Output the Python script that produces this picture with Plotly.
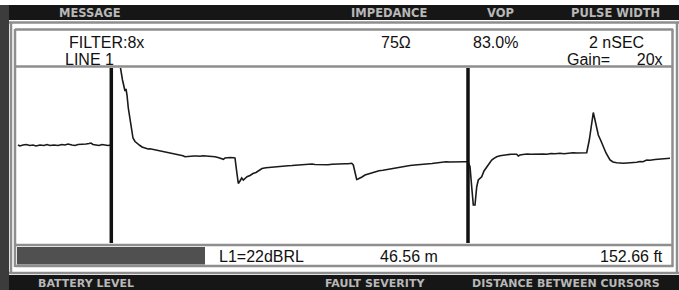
import plotly.graph_objects as go

# ---- data: TDR trace (sample index vs. amplitude, arbitrary units) ----
sample = [3, 5, 8, 11, 15, 18, 21, 25, 29, 32, 35, 39, 43, 47, 50, 53, 57, 60, 63, 67,
          71, 74, 76, 78, 81, 84, 87, 90, 93, 96, 97, 104, 105.5, 107.5, 109, 110, 111, 112,
          113.3, 115, 116.5, 118, 120, 122, 125, 127, 130, 133, 135, 138, 141, 145, 148, 152,
          155, 158, 162, 165, 168, 170, 173, 176, 179, 182, 185, 188, 191, 194, 197, 200, 203,
          206, 208.5, 210, 212, 215, 219, 220, 221.5, 223.3, 225, 226.7, 228.3, 230, 232, 235,
          238, 241, 243, 245, 247, 251, 255, 260, 265, 270, 273, 277, 280, 283, 287, 291, 294,
          297, 300, 303, 307, 310, 313, 317, 320, 323, 327, 330, 333, 336.7, 338.3, 340, 341.7,
          343, 345, 347, 350, 353, 356, 360, 364, 368, 373, 377, 381, 387, 391, 395, 400, 405,
          409, 413, 417, 421, 426, 431, 435, 440, 445, 449, 453, 455, 456.7, 458.3, 460, 461.7,
          463.3, 465, 466.7, 469, 471.7, 474, 476.7, 479, 481.7, 485, 488.3, 492, 496, 500,
          501.7, 503.3, 505, 508, 512, 516, 520, 524, 528, 532, 536, 540, 545, 549, 553, 558,
          562, 566, 571.7, 574.3, 576.7, 578.3, 580, 581.5, 583.3, 586, 588.3, 591, 595, 598,
          601.7, 605, 608.3, 612, 616, 621.7, 625, 628, 631.7, 635, 640, 645, 650, 655]
amplitude = [98, 97, 98, 98.5, 97.5, 98, 97, 98, 97.5, 98.5, 97.5, 98, 97.5, 98.5, 98, 99, 98,
             97.5, 98.5, 98.5, 99, 99.5, 100, 98.5, 98, 97.5, 98.5, 98, 97.5, 98, 203, 213, 175,
             163, 155, 152, 154, 148, 135, 123, 111, 105, 101.5, 99.5, 97.5, 96, 94.7, 94, 94.3,
             93.7, 93, 92, 91.5, 90.3, 90, 89.5, 88.7, 88, 87.2, 86.3, 86.7, 86.5, 87, 87, 86.7,
             87.2, 87, 87.3, 86.5, 86.2, 85.5, 84.5, 83.7, 85, 85.3, 85.5, 85.3, 85, 73, 59.5, 62,
             65, 63, 65, 66.3, 67.5, 69.5, 70.5, 72, 73, 74.5, 75.2, 75.7, 76.3, 76.7, 77, 77.3,
             77.5, 77.7, 78, 78.2, 78.5, 79, 79, 78.5, 78.3, 78, 78.5, 78.3, 78.7, 78.7, 78.5, 79,
             79.2, 79.3, 79.7, 78, 71, 63.5, 64, 64.7, 66, 68, 69, 70.3, 71.3, 72.2, 72.7, 73.7,
             74.5, 75.2, 76.3, 76.7, 77.5, 78, 78.3, 78.5, 79, 79.5, 80, 81, 81.3, 81, 81.3, 81.3,
             81.2, 81.3, 76.3, 56.3, 38, 38, 56, 63, 65, 66.3, 72, 76.3, 80, 83, 84.7, 86.3, 87.3,
             88, 88.3, 88.7, 88.7, 88.7, 87, 88, 88.5, 89, 88.7, 89, 88.7, 89, 88.7, 89.5, 89.2,
             89.7, 89.3, 90, 90.3, 90, 90.3, 90.3, 103, 123, 130.5, 123, 115, 108, 102, 96.3, 90,
             83, 81, 80.3, 79.7, 79.7, 80, 80, 80.7, 81.5, 81.3, 83, 82.7, 83.5, 83.7, 84.3, 84.7]
cursor_samples = [96.3, 453]

header_top = ["FILTER:8x", "75\u03a9", "83.0%", "2 nSEC"]
header_bottom = ["LINE 1", "Gain=\u00a0\u00a0\u00a0\u00a0\u00a0\u00a020x"]
status = ["L1=22dBRL", "46.56 m", "152.66 ft"]
top_labels = ["MESSAGE", "IMPEDANCE", "VOP", "PULSE WIDTH"]
bottom_labels = ["BATTERY LEVEL", "FAULT SEVERITY", "DISTANCE BETWEEN CURSORS"]

W, H = 679, 290
def X(p): return p / W
def Y(p): return 1 - p / H

fig = go.Figure()
fig.add_trace(go.Scatter(x=sample, y=amplitude, mode="lines",
                         line=dict(color="#1a1a1a", width=1.6), hoverinfo="skip",
                         showlegend=False))

shapes = []
def rect(x0, y0, x1, y1, fill, line=None, lw=0):
    shapes.append(dict(type="rect", xref="paper", yref="paper", x0=X(x0), x1=X(x1),
                       y0=Y(y1), y1=Y(y0), fillcolor=fill,
                       line=dict(color=line or fill, width=lw), layer="below"))
def hline(x0, x1, y, color="#8e8e8e", w=2.5):
    shapes.append(dict(type="line", xref="paper", yref="paper", x0=X(x0), x1=X(x1),
                       y0=Y(y), y1=Y(y), line=dict(color=color, width=w), layer="below"))
def vline(x, y0, y1, color="#8e8e8e", w=2.5):
    shapes.append(dict(type="line", xref="paper", yref="paper", x0=X(x), x1=X(x),
                       y0=Y(y0), y1=Y(y1), line=dict(color=color, width=w), layer="below"))

rect(0, 5, W, 20, "#161616")            # top black bar
rect(0, 275, W, H, "#161616")           # bottom black bar
rect(0, 5, 9, H, "#3c3c3c")             # left dark strip
hline(9, W, 22.5)                       # outer frame
vline(11, 22, 274)
hline(9, W, 273)
vline(677, 22, 274)
hline(15, 673, 29.5)                    # inner box
hline(15, 673, 66.5)
hline(15, 673, 245)
hline(15, 673, 266)
vline(15, 29, 267)
vline(672.5, 29, 267)
rect(17, 247, 205, 264.5, "#505050")    # battery level bar

for cx in cursor_samples:
    shapes.append(dict(type="line", xref="x", yref="y domain", x0=cx, x1=cx, y0=0, y1=1,
                       line=dict(color="#111111", width=3.5)))

ann = []
def text(s, x, y, anchor="center", size=16, color="#111111", family="Liberation Sans, Arial", bold=False):
    ann.append(dict(text=f"<b>{s}</b>" if bold else s, x=X(x), y=Y(y), xref="paper", yref="paper",
                    xanchor=anchor, yanchor="middle", showarrow=False,
                    font=dict(size=size, color=color, family=family)))

text(header_top[0], 67, 42, "left")
text(header_top[1], 396, 42)
text(header_top[2], 495, 42)
text(header_top[3], 616, 42)
text(header_bottom[0], 63, 60, "left")
text(header_bottom[1], 665, 60, "right")
text(status[0], 217, 256, "left")
text(status[1], 409, 256)
text(status[2], 665, 256, "right")

for s, cx in zip(top_labels, [90, 390, 500, 615]):
    text(s, cx, 13, size=11.5, color="#b8b8b8", family="DejaVu Sans", bold=True)
for s, cx in zip(bottom_labels, [86, 375, 566]):
    text(s, cx, 283, size=11, color="#b8b8b8", family="DejaVu Sans", bold=True)

fig.update_layout(
    width=W, height=H, margin=dict(l=0, r=0, t=0, b=0),
    paper_bgcolor="white", plot_bgcolor="white",
    xaxis=dict(domain=[X(15), X(672)], range=[0, 657], visible=False, fixedrange=True),
    yaxis=dict(domain=[Y(243), Y(68)], range=[0, 175], visible=False, fixedrange=True),
    shapes=shapes, annotations=ann, showlegend=False,
)
fig.write_html("out.html", config={"displayModeBar": False},
               post_script="document.body.style.margin='0';document.body.style.padding='0';"
                           "document.body.style.overflow='hidden';")
